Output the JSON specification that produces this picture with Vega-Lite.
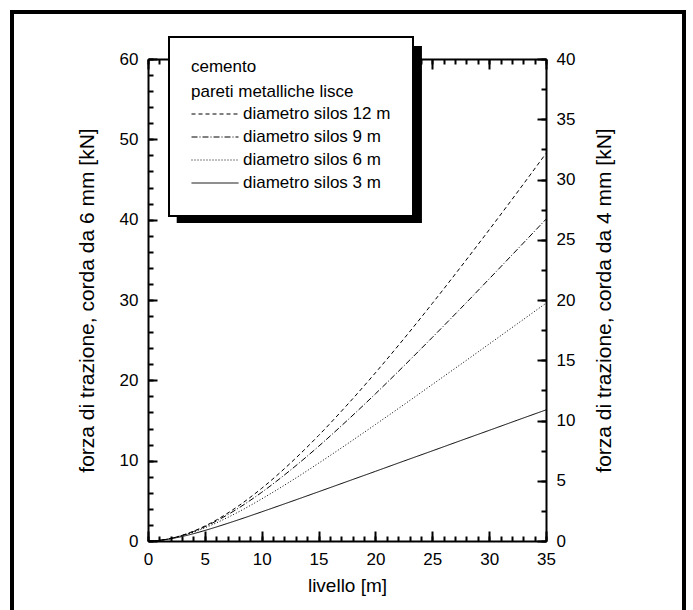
{
  "$schema": "https://vega.github.io/schema/vega-lite/v6.json",
  "autosize": {"type": "none"},
  "padding": {"left": 148, "top": 59, "right": 147, "bottom": 69},
  "width": 398,
  "height": 482,
  "background": "white",
  "config": {
    "font": "Liberation Sans",
    "view": {"stroke": null},
    "axis": {
      "grid": false,
      "domainColor": "black",
      "domainWidth": 2,
      "tickColor": "black",
      "tickWidth": 2,
      "labelColor": "black",
      "labelFont": "Liberation Sans",
      "labelFontSize": 17,
      "labelFlush": false,
      "labelOverlap": false,
      "titleColor": "black",
      "titleFont": "Liberation Sans",
      "titleFontSize": 21,
      "titleFontWeight": "normal"
    }
  },
  "datasets": {
    "curves": [
      {"z": 0, "F": 0, "s": "diametro silos 12 m"},
      {"z": 1, "F": 0.08, "s": "diametro silos 12 m"},
      {"z": 2, "F": 0.32, "s": "diametro silos 12 m"},
      {"z": 3, "F": 0.71, "s": "diametro silos 12 m"},
      {"z": 4, "F": 1.22, "s": "diametro silos 12 m"},
      {"z": 5, "F": 1.86, "s": "diametro silos 12 m"},
      {"z": 6, "F": 2.61, "s": "diametro silos 12 m"},
      {"z": 8, "F": 4.41, "s": "diametro silos 12 m"},
      {"z": 10, "F": 6.56, "s": "diametro silos 12 m"},
      {"z": 12.5, "F": 9.66, "s": "diametro silos 12 m"},
      {"z": 15, "F": 13.13, "s": "diametro silos 12 m"},
      {"z": 17.5, "F": 16.92, "s": "diametro silos 12 m"},
      {"z": 20, "F": 20.94, "s": "diametro silos 12 m"},
      {"z": 22.5, "F": 25.17, "s": "diametro silos 12 m"},
      {"z": 25, "F": 29.57, "s": "diametro silos 12 m"},
      {"z": 27.5, "F": 34.1, "s": "diametro silos 12 m"},
      {"z": 30, "F": 38.73, "s": "diametro silos 12 m"},
      {"z": 32.5, "F": 43.45, "s": "diametro silos 12 m"},
      {"z": 35, "F": 48.25, "s": "diametro silos 12 m"},
      {"z": 0, "F": 0, "s": "diametro silos 9 m"},
      {"z": 1, "F": 0.08, "s": "diametro silos 9 m"},
      {"z": 2, "F": 0.32, "s": "diametro silos 9 m"},
      {"z": 3, "F": 0.69, "s": "diametro silos 9 m"},
      {"z": 4, "F": 1.18, "s": "diametro silos 9 m"},
      {"z": 5, "F": 1.78, "s": "diametro silos 9 m"},
      {"z": 6, "F": 2.48, "s": "diametro silos 9 m"},
      {"z": 8, "F": 4.13, "s": "diametro silos 9 m"},
      {"z": 10, "F": 6.06, "s": "diametro silos 9 m"},
      {"z": 12.5, "F": 8.79, "s": "diametro silos 9 m"},
      {"z": 15, "F": 11.78, "s": "diametro silos 9 m"},
      {"z": 17.5, "F": 14.98, "s": "diametro silos 9 m"},
      {"z": 20, "F": 18.32, "s": "diametro silos 9 m"},
      {"z": 22.5, "F": 21.79, "s": "diametro silos 9 m"},
      {"z": 25, "F": 25.34, "s": "diametro silos 9 m"},
      {"z": 27.5, "F": 28.95, "s": "diametro silos 9 m"},
      {"z": 30, "F": 32.62, "s": "diametro silos 9 m"},
      {"z": 32.5, "F": 36.33, "s": "diametro silos 9 m"},
      {"z": 35, "F": 40.06, "s": "diametro silos 9 m"},
      {"z": 0, "F": 0, "s": "diametro silos 6 m"},
      {"z": 1, "F": 0.08, "s": "diametro silos 6 m"},
      {"z": 2, "F": 0.31, "s": "diametro silos 6 m"},
      {"z": 3, "F": 0.65, "s": "diametro silos 6 m"},
      {"z": 4, "F": 1.1, "s": "diametro silos 6 m"},
      {"z": 5, "F": 1.64, "s": "diametro silos 6 m"},
      {"z": 6, "F": 2.25, "s": "diametro silos 6 m"},
      {"z": 8, "F": 3.65, "s": "diametro silos 6 m"},
      {"z": 10, "F": 5.24, "s": "diametro silos 6 m"},
      {"z": 12.5, "F": 7.39, "s": "diametro silos 6 m"},
      {"z": 15, "F": 9.68, "s": "diametro silos 6 m"},
      {"z": 17.5, "F": 12.06, "s": "diametro silos 6 m"},
      {"z": 20, "F": 14.5, "s": "diametro silos 6 m"},
      {"z": 22.5, "F": 16.97, "s": "diametro silos 6 m"},
      {"z": 25, "F": 19.48, "s": "diametro silos 6 m"},
      {"z": 27.5, "F": 21.99, "s": "diametro silos 6 m"},
      {"z": 30, "F": 24.52, "s": "diametro silos 6 m"},
      {"z": 32.5, "F": 27.06, "s": "diametro silos 6 m"},
      {"z": 35, "F": 29.6, "s": "diametro silos 6 m"},
      {"z": 0, "F": 0, "s": "diametro silos 3 m"},
      {"z": 1, "F": 0.08, "s": "diametro silos 3 m"},
      {"z": 2, "F": 0.28, "s": "diametro silos 3 m"},
      {"z": 3, "F": 0.56, "s": "diametro silos 3 m"},
      {"z": 4, "F": 0.91, "s": "diametro silos 3 m"},
      {"z": 5, "F": 1.31, "s": "diametro silos 3 m"},
      {"z": 6, "F": 1.74, "s": "diametro silos 3 m"},
      {"z": 8, "F": 2.66, "s": "diametro silos 3 m"},
      {"z": 10, "F": 3.63, "s": "diametro silos 3 m"},
      {"z": 12.5, "F": 4.87, "s": "diametro silos 3 m"},
      {"z": 15, "F": 6.13, "s": "diametro silos 3 m"},
      {"z": 17.5, "F": 7.4, "s": "diametro silos 3 m"},
      {"z": 20, "F": 8.67, "s": "diametro silos 3 m"},
      {"z": 22.5, "F": 9.95, "s": "diametro silos 3 m"},
      {"z": 25, "F": 11.22, "s": "diametro silos 3 m"},
      {"z": 27.5, "F": 12.5, "s": "diametro silos 3 m"},
      {"z": 30, "F": 13.77, "s": "diametro silos 3 m"},
      {"z": 32.5, "F": 15.05, "s": "diametro silos 3 m"},
      {"z": 35, "F": 16.32, "s": "diametro silos 3 m"}
    ]
  },
  "data": {"name": "curves"},
  "resolve": {"axis": {"x": "independent", "y": "independent"}},
  "layer": [
    {
      "mark": {"type": "rect", "fill": null, "stroke": "black", "strokeWidth": 2.5},
      "encoding": {
        "x": {"datum": -11.96, "type": "quantitative", "scale": {"domain": [0, 35], "nice": false},
          "axis": {"orient": "bottom", "values": [0,1,2,3,4,5,6,7,8,9,10,11,12,13,14,15,16,17,18,19,20,21,22,23,24,25,26,27,28,29,30,31,32,33,34,35], "tickSize": -5, "labels": false, "domain": false, "title": null}},
        "x2": {"datum": 47.14},
        "y": {"datum": 65.85, "type": "quantitative", "scale": {"domain": [0, 60], "nice": false},
          "axis": {"orient": "left", "values": [0,2,4,6,8,10,12,14,16,18,20,22,24,26,28,30,32,34,36,38,40,42,44,46,48,50,52,54,56,58,60], "tickSize": -5, "labels": false, "domain": false, "title": null}},
        "y2": {"datum": -9.83}
      }
    },
    {
      "mark": {"type": "rect", "fill": "black"},
      "encoding": {
        "x": {"datum": 2.55, "type": "quantitative", "scale": {"domain": [0, 35], "nice": false},
          "axis": {"orient": "top", "values": [0,1,2,3,4,5,6,7,8,9,10,11,12,13,14,15,16,17,18,19,20,21,22,23,24,25,26,27,28,29,30,31,32,33,34,35], "tickSize": -5, "labels": false, "domain": false, "title": null}},
        "x2": {"datum": 24.01},
        "y": {"datum": 61.62, "type": "quantitative", "scale": {"domain": [0, 60], "nice": false},
          "axis": {"orient": "right", "values": [0,3.75,7.5,11.25,15,18.75,22.5,26.25,30,33.75,37.5,41.25,45,48.75,52.5,56.25,60], "tickSize": -5, "labels": false, "domain": false, "title": null}},
        "y2": {"datum": 39.59}
      }
    },
    {
      "transform": [{"filter": "datum.s == 'diametro silos 12 m' || datum.s == 'diametro silos 9 m'"}],
      "mark": {"type": "line", "color": "black", "strokeWidth": 1, "interpolate": "monotone"},
      "encoding": {
        "x": {"field": "z", "type": "quantitative", "scale": {"domain": [0, 35], "nice": false},
          "axis": {"orient": "bottom", "values": [0,5,10,15,20,25,30,35], "tickSize": -10, "labelPadding": 20, "title": "livello [m]", "titleFontSize": 19, "titlePadding": 9}},
        "y": {"field": "F", "type": "quantitative", "scale": {"domain": [0, 60], "nice": false},
          "axis": {"orient": "left", "values": [0,10,20,30,40,50,60], "tickSize": -9, "labelPadding": 19, "title": "forza di trazione, corda da 6 mm [kN]", "titlePadding": 22}},
        "strokeDash": {"field": "s", "type": "nominal",
          "scale": {"domain": ["diametro silos 12 m", "diametro silos 9 m", "diametro silos 6 m", "diametro silos 3 m"], "range": [[4,3],[6,2,1,2],[1,2],[1,0]]},
          "legend": {
            "orient": "none", "legendX": 21, "legendY": -22,
            "title": ["cemento", "pareti metalliche lisce"],
            "titleFont": "Liberation Sans", "titleFontSize": 17, "titleFontWeight": "normal", "titleColor": "black", "titleLineHeight": 25, "titlePadding": 2,
            "labelFont": "Liberation Sans", "labelFontSize": 17, "labelColor": "black", "labelOffset": 4,
            "symbolType": "stroke", "symbolSize": 2209, "symbolStrokeColor": "black", "symbolStrokeWidth": 1,
            "clipHeight": 22, "rowPadding": 1,
            "padding": 22, "strokeColor": "black", "fillColor": "white",
            "encode": {"legend": {"update": {"strokeWidth": {"value": 2}}}}
          }
        }
      }
    },
    {
      "transform": [{"filter": "datum.s == 'diametro silos 6 m' || datum.s == 'diametro silos 3 m'"}],
      "mark": {"type": "line", "color": "black", "strokeWidth": 1, "interpolate": "monotone"},
      "encoding": {
        "x": {"field": "z", "type": "quantitative", "scale": {"domain": [0, 35], "nice": false},
          "axis": {"orient": "top", "values": [0,5,10,15,20,25,30,35], "tickSize": -10, "labels": false, "title": null}},
        "y": {"field": "F", "type": "quantitative", "scale": {"domain": [0, 60], "nice": false},
          "axis": {"orient": "right", "values": [0,7.5,15,22.5,30,37.5,45,52.5,60], "labelExpr": "format(round(datum.value*2/3), 'd')", "tickSize": -9, "labelPadding": 19, "title": "forza di trazione, corda da 4 mm [kN]", "titleAngle": 270, "titleBaseline": "top", "titlePadding": 19}},
        "strokeDash": {"field": "s", "type": "nominal",
          "scale": {"domain": ["diametro silos 12 m", "diametro silos 9 m", "diametro silos 6 m", "diametro silos 3 m"], "range": [[4,3],[6,2,1,2],[1,2],[1,0]]},
          "legend": {
            "orient": "none", "legendX": 21, "legendY": -22,
            "title": ["cemento", "pareti metalliche lisce"],
            "titleFont": "Liberation Sans", "titleFontSize": 17, "titleFontWeight": "normal", "titleColor": "black", "titleLineHeight": 25, "titlePadding": 2,
            "labelFont": "Liberation Sans", "labelFontSize": 17, "labelColor": "black", "labelOffset": 4,
            "symbolType": "stroke", "symbolSize": 2209, "symbolStrokeColor": "black", "symbolStrokeWidth": 1,
            "clipHeight": 22, "rowPadding": 1,
            "padding": 22, "strokeColor": "black", "fillColor": "white",
            "encode": {"legend": {"update": {"strokeWidth": {"value": 2}}}}
          }
        }
      }
    }
  ]
}
